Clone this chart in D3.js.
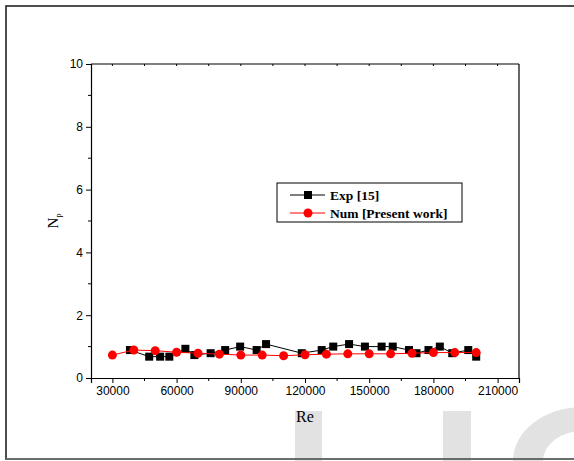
<!DOCTYPE html>
<html>
<head>
<meta charset="utf-8">
<script src="https://cdn.jsdelivr.net/npm/d3@7"></script>
<style>
  body { margin: 0; background: #fff; }
  svg { display: block; }
</style>
</head>
<body>
<div id="chart"></div>
<script>
// Exp [15] series (black squares)
const reExp = [38200, 47200, 52300, 56600, 64100, 68300, 75900, 82700, 89700, 97400, 101800,
  118500, 127800, 133200, 140600, 148000, 155800, 161000, 168600, 172100, 177700, 183000, 188800, 196300, 200000];
const npExp = [0.89, 0.68, 0.68, 0.68, 0.93, 0.73, 0.79, 0.89, 1.0, 0.89, 1.08,
  0.79, 0.89, 1.0, 1.08, 1.0, 1.0, 1.0, 0.89, 0.79, 0.89, 1.0, 0.79, 0.89, 0.68];

// Num [Present work] series (red circles)
const reNum = [30000, 40000, 50000, 60000, 70000, 80000, 90000, 100000, 110000, 120000,
  130000, 140000, 150000, 160000, 170000, 180000, 190000, 200000];
const npNum = [0.73, 0.89, 0.87, 0.82, 0.79, 0.76, 0.73, 0.73, 0.71, 0.74,
  0.76, 0.77, 0.77, 0.77, 0.79, 0.81, 0.81, 0.81];

const xTicks = [30000, 60000, 90000, 120000, 150000, 180000, 210000];
const xMinor = [45000, 75000, 105000, 135000, 165000, 195000];
const yTicks = [0, 2, 4, 6, 8, 10];
const yMinor = [1, 3, 5, 7, 9];
const legendLabels = ["Exp [15]", "Num [Present work]"];

const W = 574, H = 461;
const margin = {top: 64, right: 55, bottom: 83, left: 91};
const width = W - margin.left - margin.right,
    height = H - margin.top - margin.bottom;

const svg = d3.select("#chart")
  .append("svg")
    .attr("width", W)
    .attr("height", H);

// faint watermark behind everything
const wm = svg.append("g").attr("fill", "#e2e2e2");
wm.append("rect").attr("x", 295).attr("y", 411).attr("width", 27).attr("height", 50);
wm.append("rect").attr("x", 443).attr("y", 411).attr("width", 28).attr("height", 50);
wm.append("path")
  .attr("d", "M513,461 A70,54 0 0 1 653,461 L623,461 A40,30 0 0 0 543,461 Z");

// outer frame
svg.append("rect")
  .attr("x", 6).attr("y", 6)
  .attr("width", 620).attr("height", 453)
  .attr("fill", "none")
  .attr("stroke", "#222")
  .attr("stroke-width", 1.6);
svg.append("line")
  .attr("x1", 6).attr("x2", 574).attr("y1", 459).attr("y2", 459)
  .attr("stroke", "#777").attr("stroke-width", 1.6);

const g = svg.append("g")
  .attr("transform", `translate(${margin.left},${margin.top})`);

const x = d3.scaleLinear().domain([20000, 220000]).range([0, width]);
const y = d3.scaleLinear().domain([0, 10]).range([height, 0]);

const tickFont = "'Liberation Sans', Arial, sans-serif";

// bottom axis
const xAxis = g.append("g")
  .attr("transform", `translate(0,${height})`)
  .call(d3.axisBottom(x).tickValues(xTicks).tickSize(5).tickPadding(3)
    .tickFormat(d3.format("d")));
xAxis.selectAll("line.minor").data(xMinor).enter().append("line")
  .attr("x1", d => x(d)).attr("x2", d => x(d))
  .attr("y1", 0).attr("y2", 3).attr("stroke", "#000");

// left axis
const yAxis = g.append("g")
  .call(d3.axisLeft(y).tickValues(yTicks).tickSize(5).tickPadding(3));
yAxis.selectAll("line.minor").data(yMinor).enter().append("line")
  .attr("y1", d => y(d)).attr("y2", d => y(d))
  .attr("x1", 0).attr("x2", -3).attr("stroke", "#000");

[xAxis, yAxis].forEach(a => {
  a.select(".domain").attr("stroke-width", 1.2);
  a.selectAll("text").attr("font-family", tickFont).attr("font-size", 12).attr("fill", "#000");
});

// top and right edges of the plot box
g.append("line").attr("x1", 0).attr("x2", width).attr("y1", 0).attr("y2", 0)
  .attr("stroke", "#000").attr("stroke-width", 1.2);
g.append("line").attr("x1", width).attr("x2", width).attr("y1", 0).attr("y2", height)
  .attr("stroke", "#000").attr("stroke-width", 1.2);
g.selectAll("line.topTick").data(xTicks.concat(xMinor)).enter().append("line")
  .attr("x1", d => x(d)).attr("x2", d => x(d))
  .attr("y1", 0).attr("y2", 2).attr("stroke", "#000");

// axis titles
g.append("text")
  .attr("x", x(120000))
  .attr("y", height + 44)
  .attr("text-anchor", "middle")
  .attr("font-family", "'Liberation Serif', 'Times New Roman', serif")
  .attr("font-size", 16)
  .text("Re");

const yTitle = g.append("text")
  .attr("transform", `translate(-33,${y(5)}) rotate(-90)`)
  .attr("text-anchor", "middle")
  .attr("font-family", "'Liberation Serif', 'Times New Roman', serif")
  .attr("font-size", 15);
yTitle.append("tspan").text("N");
yTitle.append("tspan").attr("font-size", 8).attr("dy", 3).text("p");

// series
const expData = reExp.map((d, i) => ({re: d, np: npExp[i]}));
const numData = reNum.map((d, i) => ({re: d, np: npNum[i]}));
const line = d3.line().x(d => x(d.re)).y(d => y(d.np));

g.append("path").datum(expData)
  .attr("fill", "none").attr("stroke", "#000").attr("stroke-width", 1)
  .attr("d", line);
g.selectAll("rect.exp").data(expData).enter().append("rect")
  .attr("class", "exp")
  .attr("x", d => x(d.re) - 4).attr("y", d => y(d.np) - 4)
  .attr("width", 8).attr("height", 8)
  .attr("fill", "#000");

g.append("path").datum(numData)
  .attr("fill", "none").attr("stroke", "#ff0000").attr("stroke-width", 1)
  .attr("d", line);
g.selectAll("circle.num").data(numData).enter().append("circle")
  .attr("class", "num")
  .attr("cx", d => x(d.re)).attr("cy", d => y(d.np))
  .attr("r", 4.5)
  .attr("fill", "#ff0000");

// legend
const legend = svg.append("g").attr("transform", "translate(277,183)");
legend.append("rect")
  .attr("width", 185).attr("height", 39)
  .attr("fill", "#fff").attr("stroke", "#000").attr("stroke-width", 1);
const items = legend.selectAll("g.item").data(legendLabels).enter().append("g")
  .attr("transform", (d, i) => `translate(0,${12 + i * 18})`);
items.append("line")
  .attr("x1", 13).attr("x2", 48).attr("y1", 0).attr("y2", 0)
  .attr("stroke", (d, i) => i === 0 ? "#000" : "#ff0000");
items.each(function(d, i) {
  const it = d3.select(this);
  if (i === 0) {
    it.append("rect").attr("x", 27).attr("y", -4).attr("width", 8).attr("height", 8).attr("fill", "#000");
  } else {
    it.append("circle").attr("cx", 31).attr("cy", 0).attr("r", 4.5).attr("fill", "#ff0000");
  }
});
items.append("text")
  .attr("x", 53).attr("y", 4.5)
  .attr("font-family", "'Liberation Serif', 'Times New Roman', serif")
  .attr("font-weight", "bold")
  .attr("font-size", 13.5)
  .text(d => d);
</script>
</body>
</html>
